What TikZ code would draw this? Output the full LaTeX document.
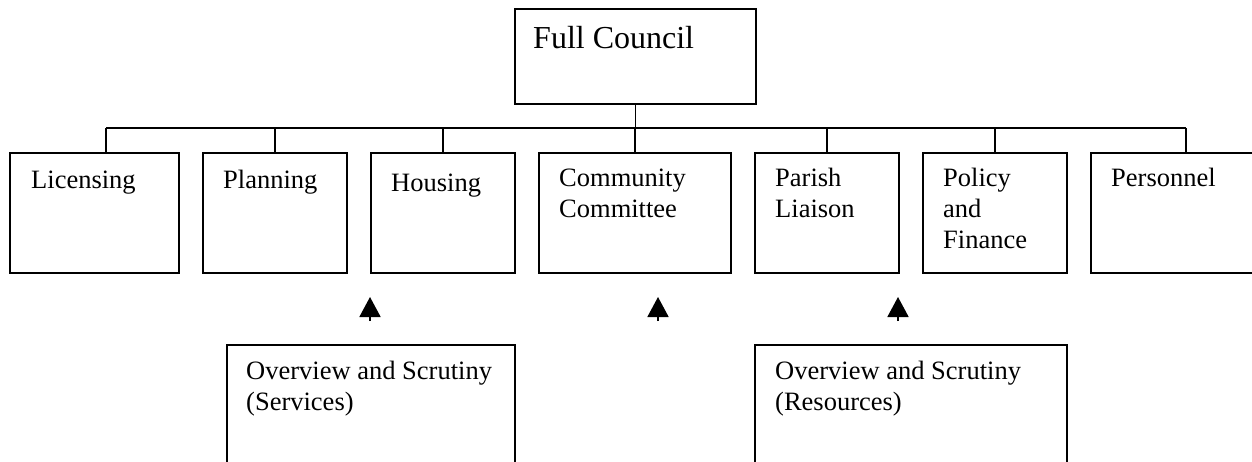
\documentclass[tikz,border=0pt]{standalone}
\usepackage{fontspec}
\setmainfont{Liberation Serif}
\usetikzlibrary{arrows.meta}
\tikzset{
  box/.style={draw, line width=1.8pt, inner sep=0pt, anchor=north west},
  lbl/.style={inner sep=0pt, anchor=base west, font=\fontsize{26.5}{31}\selectfont},
  biglbl/.style={inner sep=0pt, anchor=base west, font=\fontsize{32}{37}\selectfont},
  conn/.style={line width=1.8pt},
  arr/.style={line width=1.8pt, -{Triangle[width=21pt,length=20pt]}}
}
\newcommand{\twolines}[2]{\begin{tabular}[t]{@{}l@{}}#1\\#2\end{tabular}}
\newcommand{\threelines}[3]{\begin{tabular}[t]{@{}l@{}}#1\\#2\\#3\end{tabular}}
\begin{document}
\begin{tikzpicture}[x=1pt,y=-1pt]
\useasboundingbox (0,0) rectangle (1252,462);
\clip (0,0) rectangle (1252,462);
\fill[white] (0,0) rectangle (1252,462);
% top box
\node[box, minimum width=241pt, minimum height=95pt] (fc) at (514,8) {};
\node[biglbl] (fct) at (533,49) {Full Council};
% row of committees
\node[box, minimum width=169pt, minimum height=120pt] (lic) at (9,152) {};
\node[box, minimum width=144pt, minimum height=120pt] (pla) at (202,152) {};
\node[box, minimum width=144pt, minimum height=120pt] (hou) at (370,152) {};
\node[box, minimum width=192pt, minimum height=120pt] (com) at (538,152) {};
\node[box, minimum width=144pt, minimum height=120pt] (par) at (754,152) {};
\node[box, minimum width=144pt, minimum height=120pt] (pol) at (922,152) {};
\node[box, minimum width=192pt, minimum height=120pt] (per) at (1090,152) {};
\node[lbl] (lict) at (31,189) {Licensing};
\node[lbl] (plat) at (223,189) {Planning};
\node[lbl] (hout) at (391,192) {Housing};
\node[lbl] (comt) at (559,187) {\twolines{Community}{Committee}};
\node[lbl] (part) at (775,187) {\twolines{Parish}{Liaison}};
\node[lbl] (polt) at (943,187) {\threelines{Policy}{and}{Finance}};
\node[lbl] (pert) at (1111,187) {Personnel};
% bottom boxes
\node[box, minimum width=288pt, minimum height=160pt] (ser) at (226,344) {};
\node[box, minimum width=312pt, minimum height=160pt] (res) at (754,344) {};
\node[lbl] (sert) at (246,379) {\twolines{Overview and Scrutiny}{(Services)}};
\node[lbl] (rest) at (775,379) {\twolines{Overview and Scrutiny}{(Resources)}};
% connectors
\coordinate (busL) at (106,128);
\coordinate (busR) at (1186,128);
\draw[conn] (fc.south) -- (fc.south |- busL);
\draw[conn] (busL) -- (busR);
\draw[conn] (busL) -- (busL |- lic.north);
\draw[conn] (pla.north) -- (pla.north |- busL);
\draw[conn] (hou.north) -- (hou.north |- busL);
\draw[conn] (com.north) -- (com.north |- busL);
\draw[conn] (par.north) -- (par.north |- busL);
\draw[conn] (pol.north) -- (pol.north |- busL);
\draw[conn] (busR) -- (busR |- per.north);
% arrows
\coordinate (a1s) at (370,321); \coordinate (a1t) at (370,297);
\coordinate (a2s) at (658,321); \coordinate (a2t) at (658,297);
\coordinate (a3s) at (898,321); \coordinate (a3t) at (898,297);
\draw[arr] (a1s) -- (a1t);
\draw[arr] (a2s) -- (a2t);
\draw[arr] (a3s) -- (a3t);
\end{tikzpicture}
\end{document}
